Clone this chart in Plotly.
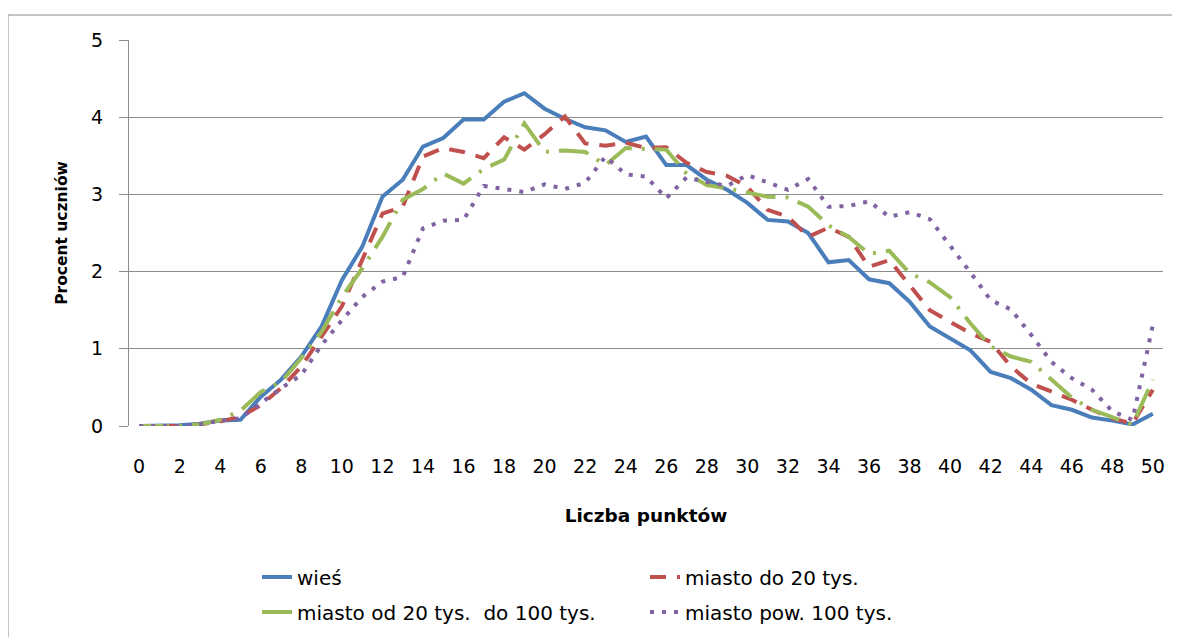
import plotly.graph_objects as go

points = list(range(51))
tick_vals = list(range(0, 51, 2))

wies = [0, 0, 0.01, 0.03, 0.07, 0.08, 0.38, 0.6, 0.9, 1.29, 1.89, 2.32, 2.97, 3.19, 3.62, 3.73,
        3.97, 3.97, 4.2, 4.31, 4.11, 3.98, 3.87, 3.83, 3.68, 3.75, 3.38, 3.38, 3.19, 3.06, 2.89,
        2.67, 2.65, 2.5, 2.12, 2.15, 1.9, 1.85, 1.61, 1.29, 1.14, 0.98, 0.7, 0.62, 0.47, 0.27,
        0.21, 0.11, 0.07, 0.02, 0.16]
miasto_do20 = [0, 0, 0, 0.02, 0.06, 0.12, 0.27, 0.49, 0.77, 1.16, 1.55, 2.15, 2.75, 2.84, 3.49,
               3.6, 3.55, 3.47, 3.74, 3.58, 3.78, 4.01, 3.66, 3.63, 3.67, 3.6, 3.61, 3.41, 3.29,
               3.24, 3.1, 2.8, 2.71, 2.45, 2.57, 2.45, 2.06, 2.15, 1.83, 1.5, 1.35, 1.2, 1.09,
               0.77, 0.55, 0.44, 0.34, 0.21, 0.1, 0.03, 0.47]
miasto_20_100 = [0, 0, 0, 0.02, 0.08, 0.2, 0.44, 0.57, 0.88, 1.22, 1.67, 2.04, 2.45, 2.93, 3.07,
                 3.27, 3.14, 3.33, 3.45, 3.92, 3.55, 3.57, 3.55, 3.38, 3.6, 3.59, 3.58, 3.27,
                 3.12, 3.08, 3.02, 2.97, 2.96, 2.84, 2.6, 2.45, 2.23, 2.27, 1.98, 1.86, 1.67,
                 1.33, 1.03, 0.9, 0.83, 0.6, 0.37, 0.21, 0.12, 0.02, 0.6]
miasto_pow100 = [0, 0, 0, 0.02, 0.07, 0.1, 0.3, 0.49, 0.66, 1.05, 1.37, 1.67, 1.87, 1.93, 2.56,
                 2.66, 2.67, 3.11, 3.07, 3.03, 3.13, 3.07, 3.15, 3.49, 3.26, 3.23, 2.95, 3.22,
                 3.16, 3.11, 3.25, 3.16, 3.06, 3.2, 2.84, 2.85, 2.91, 2.71, 2.77, 2.68, 2.34,
                 1.99, 1.63, 1.51, 1.18, 0.83, 0.62, 0.47, 0.19, 0.08, 1.31]

FONT = "'DejaVu Sans', sans-serif"
GRID = "#8c8c8c"

# the page places the figure 8px from the top-left corner of the window
W, H = 1172, 629
L, T, PW, PH = 121, 32, 1034, 386

fig = go.Figure()
fig.add_trace(go.Scatter(x=points, y=wies, mode="lines", name="wieś",
                         line=dict(color="#4A7EBB", width=4), legend="legend"))
fig.add_trace(go.Scatter(x=points, y=miasto_do20, mode="lines", name="miasto do 20 tys.",
                         line=dict(color="#C0504D", width=4, dash="16px,11px"), legend="legend"))
fig.add_trace(go.Scatter(x=points, y=miasto_20_100, mode="lines", name="miasto od 20 tys.  do 100 tys.",
                         line=dict(color="#9BBB59", width=4, dash="30px,10px,3px,10px"), legend="legend2"))
fig.add_trace(go.Scatter(x=points, y=miasto_pow100, mode="lines", name="miasto pow. 100 tys.",
                         line=dict(color="#8064A2", width=4, dash="4px,8px"), legend="legend2"))

legend_common = dict(orientation="h", font=dict(family=FONT, size=20, color="#000"),
                     entrywidth=343, entrywidthmode="pixels", bgcolor="rgba(0,0,0,0)",
                     xref="container", yref="container",
                     xanchor="left", yanchor="middle", traceorder="normal")

fig.update_layout(
    width=W, height=H,
    margin=dict(l=L, r=W - L - PW, t=T, b=H - T - PH, autoexpand=False),
    paper_bgcolor="white", plot_bgcolor="white",
    font=dict(family=FONT, size=19, color="#000"),
    xaxis=dict(range=[-0.5, 50.5], tickmode="array", tickvals=tick_vals,
               showgrid=False, zeroline=False, showline=False, ticks="",
               ticklabelstandoff=27, tickfont=dict(size=19), automargin=False,
               title=dict(text="<b>Liczba punktów</b>", font=dict(size=18.5), standoff=33)),
    yaxis=dict(range=[0, 5], dtick=1, showgrid=True, gridcolor=GRID, gridwidth=1,
               zeroline=False, showline=True, linecolor=GRID, linewidth=1,
               ticks="outside", ticklen=9, tickcolor=GRID, ticklabelstandoff=12,
               tickfont=dict(size=19), automargin=False,
               title=dict(text="<b>Procent uczniów</b>", font=dict(size=15.5), standoff=19)),
    legend=dict(x=249 / W, y=1 - 569 / H, **legend_common),
    legend2=dict(x=249 / W, y=1 - 604 / H, **legend_common),
    shapes=[dict(type="rect", xref="paper", yref="paper",
                 x0=(0 - L) / PW, x1=(1167 - L) / PW,
                 y0=(T + PH - 660) / PH, y1=(T + PH - 7) / PH,
                 line=dict(color="#8c8c8c", width=1), layer="below")],
)

fig.write_html("out.html")
